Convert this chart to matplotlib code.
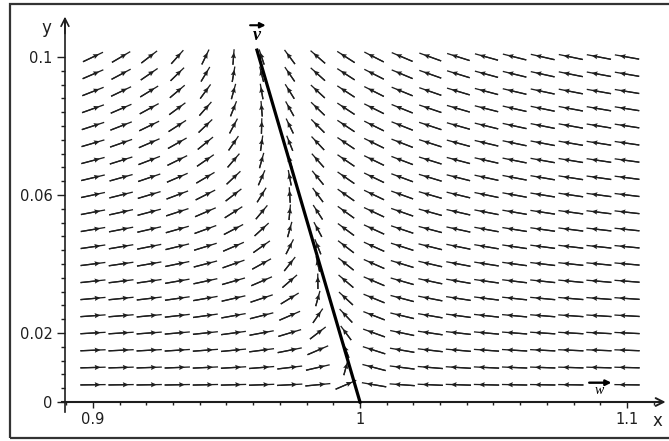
import numpy as np
import matplotlib.pyplot as plt
from matplotlib.patches import Rectangle

# direction field grid (20 x 20 arrows)
x_grid = np.linspace(0.9, 1.1, 20)
y_grid = np.linspace(0.005, 0.1, 20)

# saddle point at (1, 0): stable along w (x axis), unstable along v
fixed_point = [1.0, 0.0]
v_vec = [-0.0386, 0.102]      # thick line goes from fixed_point to fixed_point + v_vec
rate_w = -1.0
rate_v = 0.2

x_ticks = [0.9, 1.0, 1.1]
x_ticklabels = ['0.9', '1', '1.1']
y_ticks = [0, 0.02, 0.06, 0.1]
y_ticklabels = ['0', '0.02', '0.06', '0.1']

###############################################################
X, Y = np.meshgrid(x_grid, y_grid)
b = Y / v_vec[1]
a = (X - fixed_point[0]) - b * v_vec[0]
Fx = rate_w * a + rate_v * b * v_vec[0]
Fy = rate_v * b * v_vec[1]

# every arrow scaled to fit its grid cell
dx = x_grid[1] - x_grid[0]
dy = y_grid[1] - y_grid[0]
n = np.hypot(Fx / dx, Fy / dy)
U = 0.9 * Fx / n
V = 0.9 * Fy / n

keep = np.ones(X.shape, bool)
keep[0, 18] = False   # the w label sits there
X, Y, U, V = X[keep], Y[keep], U[keep], V[keep]

fig = plt.figure(figsize=(6.69, 4.41), dpi=100)
ax = fig.add_axes([0, 0, 1, 1])
ax.set_xlim(0.86517, 1.11573)
ax.set_ylim(-0.0113, 0.11652)

col = '#1e1e1e'
# shafts
ax.quiver(X, Y, U, V, pivot='middle', angles='xy', scale_units='xy', scale=1,
          units='dots', width=1.3, headwidth=0, headlength=0, headaxislength=0,
          color=col, zorder=3)
# small heads a bit behind the tip
ax.quiver(X - U / 2, Y - V / 2, 0.8 * U, 0.8 * V, pivot='tail', angles='xy',
          scale_units='xy', scale=1, units='dots', width=1.3, headwidth=4,
          headlength=4.5, headaxislength=4, color=col, zorder=3)

# eigen direction v
ax.plot([fixed_point[0], fixed_point[0] + v_vec[0]],
        [fixed_point[1], fixed_point[1] + v_vec[1]], color='black', lw=2.3, zorder=4)

# axes in the middle of the picture
for s in ['top', 'right']:
    ax.spines[s].set_visible(False)
ax.spines['left'].set_position(('data', 0.8895))
ax.spines['bottom'].set_position(('data', 0))
ax.spines['left'].set_bounds(-0.003, 0.111)
ax.spines['bottom'].set_bounds(0.8885, 1.113)
ax.spines['left'].set_linewidth(1.2)
ax.spines['bottom'].set_linewidth(1.5)
ax.spines['left'].set_color(col)
ax.spines['bottom'].set_color(col)
ax.annotate('', xy=(0.8895, 0.1125), xytext=(0.8895, 0.106),
            arrowprops=dict(arrowstyle='->', lw=1.2, color=col, mutation_scale=14))
ax.annotate('', xy=(1.1155, 0), xytext=(1.108, 0),
            arrowprops=dict(arrowstyle='->', lw=1.4, color=col, mutation_scale=14))

ax.set_xticks(x_ticks, x_ticklabels)
ax.set_yticks(y_ticks, y_ticklabels)
ax.set_xticks(np.arange(0.89, 1.111, 0.01), minor=True)
ax.set_yticks(np.arange(0.004, 0.1001, 0.004), minor=True)
ax.tick_params(axis='both', which='major', direction='out', colors=col, labelsize=10.5)
ax.tick_params(axis='y', which='major', length=6, width=1, pad=3)
ax.tick_params(axis='x', which='major', length=4, width=1, pad=3)
ax.tick_params(axis='y', which='minor', length=3, width=1, colors=col)
ax.tick_params(axis='x', which='minor', length=2, width=1, colors=col)

ax.text(0.8825, 0.1085, 'y', fontsize=12, ha='center', va='center', color=col)
ax.text(1.1115, -0.0055, 'x', fontsize=12, ha='center', va='center', color=col)

# vector labels
ax.text(0.9612, 0.1063, 'v', fontsize=13, style='italic', weight='bold',
        family='Liberation Serif', ha='center', va='center', color='black')
ax.annotate('', xy=(0.9657, 0.1092), xytext=(0.9578, 0.1092),
            arrowprops=dict(arrowstyle='-|>', lw=1.5, color='black', mutation_scale=8))
ax.text(1.0897, 0.0034, 'w', fontsize=10, style='italic',
        family='Liberation Serif', ha='center', va='center', color='black')
ax.annotate('', xy=(1.0952, 0.0056), xytext=(1.0848, 0.0056),
            arrowprops=dict(arrowstyle='-|>', lw=1.7, color='black', mutation_scale=8))

# scanned page frame
fig.patches.append(Rectangle((10 / 669, 3 / 441), 1.2, 434 / 441, transform=fig.transFigure,
                             fill=False, lw=1.6, edgecolor='#333333'))

fig.savefig('out.png', dpi=100)
